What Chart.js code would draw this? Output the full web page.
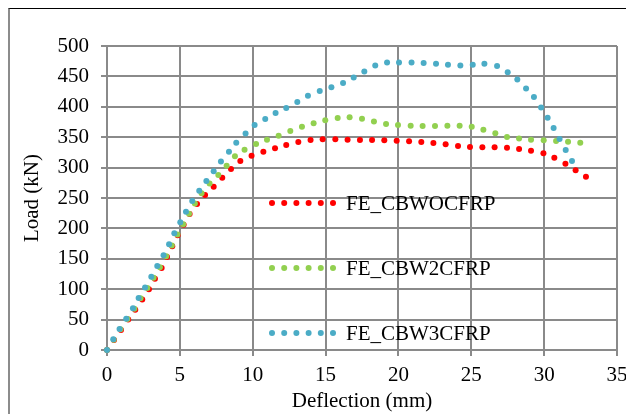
<!DOCTYPE html>
<html>
<head>
<meta charset="utf-8">
<script src="https://cdn.jsdelivr.net/npm/chart.js@4.4.0/dist/chart.umd.min.js"></script>
<style>
  html, body { margin: 0; padding: 0; background: #fff; overflow: hidden; }
  #frame {
    position: absolute; left: 8px; top: 8px; width: 700px; height: 500px;
    border-left: 2px solid #8c8c8c; border-top: 1px solid #000;
  }
  #chart { position: absolute; left: 0; top: 0; }
</style>
</head>
<body>
<div id="frame"></div>
<canvas id="chart" width="626" height="414"></canvas>
<script>
  // Load-deflection curves
  const seriesLabels = ['FE_CBWOCFRP', 'FE_CBW2CFRP', 'FE_CBW3CFRP'];
  const seriesColors = ['#ff0000', '#92d050', '#4bacc6'];

  const woX = [0, 0.48, 0.96, 1.46, 1.94, 2.42, 2.88, 3.29, 3.75, 4.12,
    4.48, 4.85, 5.26, 5.67, 6.18, 6.73, 7.32, 7.91, 8.51, 9.15,
    9.92, 10.73, 11.53, 12.3, 13.13, 13.97, 14.8, 15.67, 16.51, 17.36,
    18.19, 19.03, 19.88, 20.73, 21.57, 22.4, 23.24, 24.09, 24.91, 25.76,
    26.6, 27.45, 28.28, 29.1, 29.95, 30.7, 31.46, 32.16, 32.87];
  const woY = [0, 16.5, 33, 50, 66, 83, 100, 117, 135, 153,
    170.5, 188.6, 206, 223.7, 240, 255, 268.6, 283.4, 297.7, 310.9,
    319.6, 326, 331.7, 337, 342, 345.4, 346.5, 346.5, 346, 345.4,
    345.4, 345, 344.3, 343.3, 342, 340.5, 338.3, 335.5, 334, 333.4,
    333.4, 332.8, 330.6, 327.8, 323.5, 316.3, 306.4, 295.5, 285];

  const w2X = [0, 0.46, 0.92, 1.4, 1.88, 2.3, 2.77, 3.2, 3.63, 4.06,
    4.45, 4.83, 5.23, 5.63, 6.03, 6.49, 7.04, 7.64, 8.21, 8.78,
    9.44, 10.23, 10.98, 11.78, 12.58, 13.38, 14.18, 14.98, 15.83, 16.65,
    17.5, 18.32, 19.15, 19.97, 20.84, 21.66, 22.51, 23.36, 24.2, 25.03,
    25.83, 26.65, 27.45, 28.28, 29.1, 29.97, 30.82, 31.64, 32.48];
  const w2Y = [0, 17, 34, 51, 68, 85, 102, 119, 136, 154,
    172, 190, 207, 224, 241, 257.7, 274, 288, 303, 318.6,
    329.5, 338.8, 346, 352.5, 360, 367, 373, 377.8, 381.6, 382.7,
    380.4, 376, 371.7, 370, 369, 368.4, 368.4, 369, 369, 367.3,
    362.4, 356.4, 350.3, 348, 346, 345, 343.8, 342.6, 341];

  const w3X = [0, 0.43, 0.86, 1.32, 1.78, 2.17, 2.61, 3.04, 3.45, 3.88,
    4.26, 4.62, 5.03, 5.42, 5.85, 6.33, 6.82, 7.32, 7.82, 8.37,
    8.87, 9.51, 10.13, 10.86, 11.57, 12.3, 13.06, 13.79, 14.6, 15.4,
    16.2, 16.93, 17.66, 18.41, 19.22, 20.04, 20.9, 21.73, 22.58, 23.4,
    24.25, 25.1, 25.9, 26.77, 27.5, 28.16, 28.76, 29.3, 29.79, 30.24,
    30.65, 31.06, 31.48, 31.91];
  const w3Y = [0, 17.6, 34.5, 51.5, 68.6, 85.5, 103, 120.6, 138, 156,
    174, 192, 210, 227.5, 245, 262, 278, 294, 310, 326,
    341, 356, 370, 380, 390, 398, 408, 418, 426, 432,
    439, 448, 458, 468, 473, 473, 473, 472, 471, 469,
    468, 469, 471, 467, 457, 445, 430, 416, 399, 382,
    365, 347, 329, 311];

  const xTicks = [0, 5, 10, 15, 20, 25, 30, 35];
  const yTicks = [0, 50, 100, 150, 200, 250, 300, 350, 400, 450, 500];

  const FONT = 'Liberation Serif, Times New Roman, serif';
  const GRID = '#8a8a8a';

  function toPoints(xs, ys) {
    return xs.map(function(x, i) { return { x: x, y: ys[i] }; });
  }

  function makeDataset(i, xs, ys) {
    return {
      label: seriesLabels[i],
      data: toPoints(xs, ys),
      showLine: false,
      pointRadius: 3,
      pointBorderWidth: 0,
      pointBackgroundColor: seriesColors[i],
      borderColor: seriesColors[i],
      backgroundColor: seriesColors[i],
      clip: false,
      order: 3 - i   // later series drawn on top, as in the source
    };
  }

  // Legend sits inside the plot area as a stacked list of dotted samples
  const insideLegend = {
    id: 'insideLegend',
    afterDatasetsDraw(chart) {
      const ctx = chart.ctx;
      const area = chart.chartArea;
      const x0 = area.left + 165;
      const rowY = [area.top + 157, area.top + 222, area.top + 287];
      ctx.save();
      ctx.font = '21px ' + FONT;
      ctx.textBaseline = 'middle';
      ctx.fillStyle = '#000';
      chart.data.datasets.forEach(function(ds, i) {
        ctx.fillStyle = ds.pointBackgroundColor;
        for (let k = 0; k < 6; k++) {
          ctx.beginPath();
          ctx.arc(x0 + k * 12.2, rowY[i], 3, 0, Math.PI * 2);
          ctx.fill();
        }
        ctx.fillStyle = '#000';
        ctx.fillText(ds.label, x0 + 74, rowY[i] + 1);
      });
      ctx.restore();
    }
  };

  new Chart(document.getElementById('chart'), {
    type: 'scatter',
    data: {
      datasets: [
        makeDataset(0, woX, woY),
        makeDataset(1, w2X, w2Y),
        makeDataset(2, w3X, w3Y)
      ]
    },
    options: {
      responsive: false,
      animation: false,
      layout: { padding: { left: 0, right: 9, top: 46, bottom: 0 } },
      plugins: {
        legend: { display: false },
        tooltip: { enabled: false }
      },
      scales: {
        x: {
          type: 'linear',
          min: 0,
          max: 35,
          afterBuildTicks: function(scale) {
            scale.ticks = xTicks.map(function(v) { return { value: v }; });
          },
          afterFit: function(scale) {
            scale.height = 64;
            scale.paddingLeft = 0;
            scale.paddingRight = 0;
          },
          grid: { color: GRID, lineWidth: 2, tickLength: 6, tickColor: GRID },
          border: { color: GRID, width: 2 },
          ticks: {
            color: '#000',
            padding: 7,
            maxRotation: 0,
            font: { family: FONT, size: 21 }
          },
          title: {
            display: true,
            text: 'Deflection (mm)',
            color: '#000',
            padding: { top: 0, bottom: 0 },
            font: { family: FONT, size: 21 }
          }
        },
        y: {
          type: 'linear',
          min: 0,
          max: 500,
          afterBuildTicks: function(scale) {
            scale.ticks = yTicks.map(function(v) { return { value: v }; });
          },
          afterFit: function(scale) {
            scale.width = 107;
          },
          grid: { color: GRID, lineWidth: 2, tickLength: 6, tickColor: GRID },
          border: { color: GRID, width: 2 },
          ticks: {
            color: '#000',
            padding: 12,
            font: { family: FONT, size: 21 }
          },
          title: {
            display: true,
            text: 'Load (kN)',
            color: '#000',
            padding: { top: 20, bottom: 0 },
            font: { family: FONT, size: 21 }
          }
        }
      }
    },
    plugins: [insideLegend]
  });
</script>
</body>
</html>
